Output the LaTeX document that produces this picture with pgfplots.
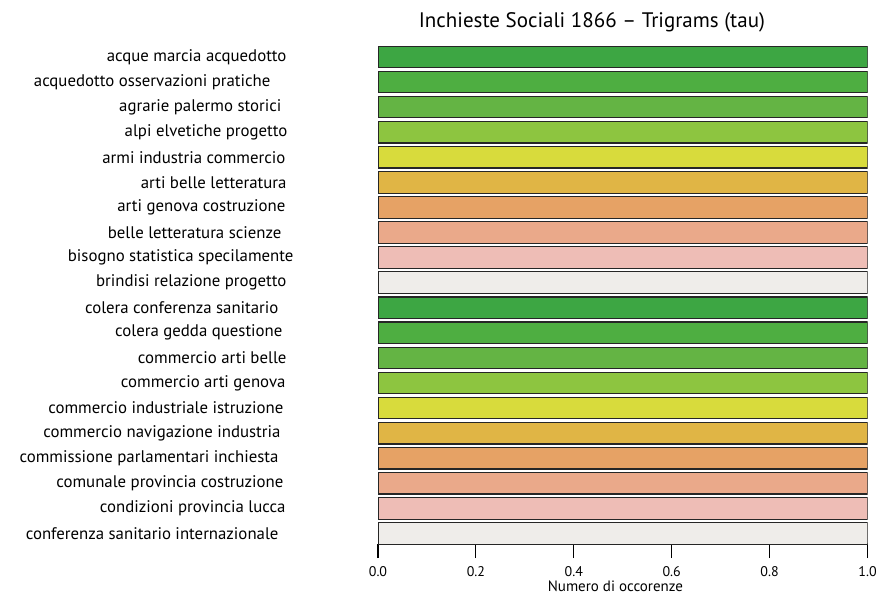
\documentclass[border=0pt]{standalone}
\usepackage{fontspec}
\setmainfont{PT Sans}
\usepackage{pgfplots}
\pgfplotsset{compat=1.18}

\definecolor{c1}{HTML}{3DA643}
\definecolor{c2}{HTML}{4EAE41}
\definecolor{c3}{HTML}{64B444}
\definecolor{c4}{HTML}{8DC540}
\definecolor{c5}{HTML}{D8DB3C}
\definecolor{c6}{HTML}{E0B545}
\definecolor{c7}{HTML}{E6A265}
\definecolor{c8}{HTML}{EAA98A}
\definecolor{c9}{HTML}{EEBDB6}
\definecolor{c10}{HTML}{EFEDEA}

\begin{document}
\begin{tikzpicture}[x=1pt,y=1pt]
\path[use as bounding box] (0,0) rectangle (877,595);
\begin{axis}[
  at={(378pt,51pt)}, anchor=south west,
  scale only axis,
  width=489.5pt, height=499.6pt,
  xmin=0, xmax=1, ymin=-0.42, ymax=19.5,
  xbar, bar shift=0pt, bar width=0.86,
  axis x line=bottom, axis y line=left,
  axis line style={-, line width=1.1pt},
  y axis line style={draw=none},
  xtick={0,0.2,0.4,0.6,0.8,1},
  /pgf/number format/fixed,
  /pgf/number format/fixed zerofill,
  /pgf/number format/precision=1,
  /pgf/number format/assume math mode=true,
  xticklabel style={font=\fontsize{14}{14}\selectfont, anchor=center, yshift=-14pt},
  tick align=outside, major tick length=14pt,
  xtick style={line width=1.1pt, black},
  ytick={0,...,19}, ytick style={draw=none},
  yticklabel style={font=\fontsize{16.8}{16.8}\selectfont, anchor=east, xshift=-67pt},
  yticklabels={
    {conferenza sanitario internazionale\kern15pt},
    {condizioni provincia lucca\kern8pt},
    {comunale provincia costruzione\kern10pt},
    {commissione parlamentari inchiesta\kern15pt},
    {commercio navigazione industria\kern13pt},
    {commercio industriale istruzione\kern10pt},
    {commercio arti genova\kern8pt},
    {commercio arti belle\kern7pt},
    {colera gedda questione\kern11pt},
    {colera conferenza sanitario\kern15pt},
    {brindisi relazione progetto\kern7pt},
    {bisogno statistica specilamente},
    {belle letteratura scienze\kern12pt},
    {arti genova costruzione\kern8pt},
    {arti belle letteratura\kern7pt},
    {armi industria commercio\kern8pt},
    {alpi elvetiche progetto\kern6pt},
    {agrarie palermo storici\kern12pt},
    {acquedotto osservazioni pratiche\kern23pt},
    {acque marcia acquedotto\kern7pt}
  },
  xlabel={Numero di occorenze},
  xlabel style={font=\fontsize{15}{15}\selectfont, at={(0.485,0)}, anchor=center, yshift=-42pt},
  title={Inchieste Sociali 1866 -- Trigrams (tau)},
  title style={font=\fontsize{21}{21}\selectfont, at={(0.437,1)}, anchor=center, yshift=16pt},
  every axis plot/.append style={draw=black!85, line width=1.2pt},
]
\addplot[fill=c1]  coordinates {(1,19) (1,9)};
\addplot[fill=c2]  coordinates {(1,18) (1,8)};
\addplot[fill=c3]  coordinates {(1,17) (1,7)};
\addplot[fill=c4]  coordinates {(1,16) (1,6)};
\addplot[fill=c5]  coordinates {(1,15) (1,5)};
\addplot[fill=c6]  coordinates {(1,14) (1,4)};
\addplot[fill=c7]  coordinates {(1,13) (1,3)};
\addplot[fill=c8]  coordinates {(1,12) (1,2)};
\addplot[fill=c9]  coordinates {(1,11) (1,1)};
\addplot[fill=c10] coordinates {(1,10) (1,0)};
\end{axis}
\end{tikzpicture}
\end{document}
